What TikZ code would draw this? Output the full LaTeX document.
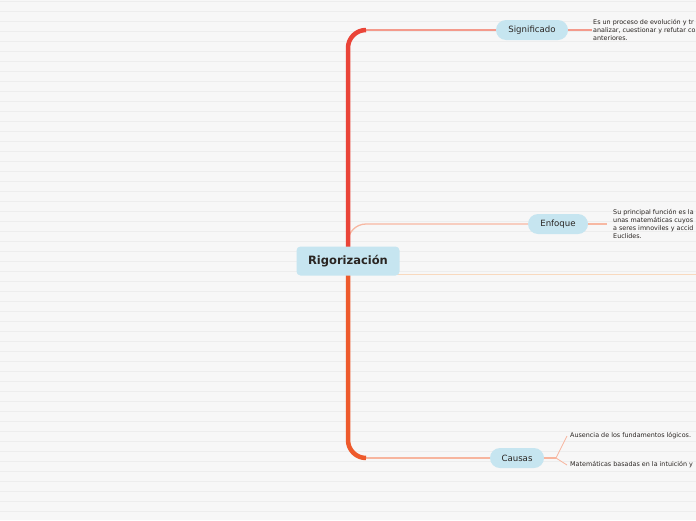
\documentclass[tikz,border=0pt]{standalone}
\usepackage{fontspec}
\setmainfont{DejaVu Sans}
\usepackage{xcolor}
\usepackage{tikz}
\usetikzlibrary{calc}

\definecolor{bgcol}{HTML}{F7F7F7}
\definecolor{stripecol}{HTML}{EDEDED}
\definecolor{topicfill}{HTML}{C6E5F0}
\definecolor{inkcol}{HTML}{2A2522}
\definecolor{trunkred}{HTML}{EA4438}
\definecolor{trunkorange}{HTML}{EE5A2C}
\definecolor{sigline}{HTML}{F49A8C}
\definecolor{enfline}{HTML}{F7B8A2}
\definecolor{hzline}{HTML}{F8D9BE}
\definecolor{cauline}{HTML}{F7B59E}

\pgfdeclarelayer{back}
\pgfdeclarelayer{links}
\pgfsetlayers{back,links,main}

\begin{document}
\begin{tikzpicture}[
  x=1pt, y=-1pt,
  root/.style={rectangle, fill=topicfill, rounded corners=4pt, minimum width=103pt, minimum height=29pt, text=inkcol, font=\bfseries\fontsize{11.5}{13}\selectfont},
  topic/.style={rectangle, fill=topicfill, rounded corners=10pt, minimum height=20pt, text=inkcol, font=\fontsize{8.6}{10}\selectfont},
  note/.style={anchor=west, align=left, inner sep=1pt, text=inkcol, font=\fontsize{6.4}{8}\selectfont},
  trunk/.style={line width=4.5pt, rounded corners=18pt},
  branch/.style={line width=1.3pt},
  leaf/.style={line width=0.8pt},
]
  \useasboundingbox (0,0) rectangle (696,520);
  \clip (0,0) rectangle (696,520);
  \begin{pgfonlayer}{back}
    \fill[bgcol] (0,0) rectangle (696,520);
    \foreach \y in {1,11,...,521}
      \draw[stripecol, line width=0.8pt] (0,\y) -- (696,\y);
  \end{pgfonlayer}

  \node[root] (rig) at (348,261) {Rigorización};

  % topics
  \node[topic, minimum width=72pt] (sig) at (532,30) {Significado};
  \node[topic, minimum width=60pt] (enf) at (558,224) {Enfoque};
  \node[topic, minimum width=54pt] (cau) at (517,458) {Causas};

  % texts
  \node[note] (sigtxt) at (592,30) {Es un proceso de evolución y tr\\analizar, cuestionar y refutar co\\anteriores.};
  \node[note] (enftxt) at (612,224) {Su principal función es la\\unas matemáticas cuyos\\a seres imnoviles y accid\\Euclides.};
  \node[note] (aus) at (569,436) {Ausencia de los fundamentos lógicos.};
  \node[note] (mat) at (569,465) {Matemáticas basadas en la intuición y};

  \coordinate (sigbend) at ($(rig.center |- sig.west)+(18,0)$);
  \coordinate (caubend) at ($(rig.center |- cau.west)+(18,0)$);
  \coordinate (enfroot) at ($(rig.center |- enf.west)+(0,22)$);
  \coordinate (hstart) at ($(rig.south)+(0,-1.5)$);
  \coordinate (hend) at ($(hstart)+(360,0)$);
  \coordinate (cauhub) at (556,458);

  \begin{pgfonlayer}{links}
    % branches
    \draw[branch, hzline] (hstart) -- (hend);
    \draw[branch, enfline, rounded corners=18pt] (enfroot) |- (enf.west);
    \draw[branch, sigline] (sigbend) -- (sig.west);
    \draw[branch, cauline] (caubend) -- (cau.west);
    \draw[branch, sigline] (sig.east) -- (sigtxt.west);
    \draw[branch, enfline, shorten >=5pt] (enf.east) -- (enftxt.west);
    \draw[branch, cauline] (cau.east) -- (cauhub);
    \draw[leaf, cauline] (cauhub) -- ($(aus.west)+(-2,0)$);
    \draw[leaf, cauline] (cauhub) -- ($(mat.west)+(-2,0)$);

    % trunk
    \draw[trunk, trunkred] (rig.center) |- (sigbend);
    \draw[trunk, trunkorange] (rig.center) |- (caubend);
  \end{pgfonlayer}
\end{tikzpicture}
\end{document}
